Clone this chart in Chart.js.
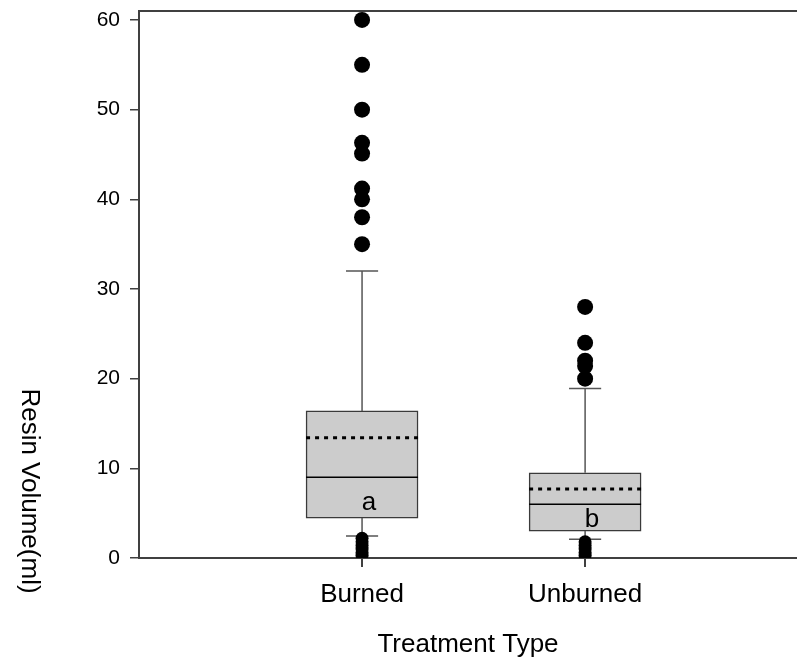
<!DOCTYPE html>
<html>
<head>
<meta charset="utf-8">
<script src="https://cdn.jsdelivr.net/npm/chart.js@4.4.1/dist/chart.umd.min.js"></script>
<style>
  html, body { margin: 0; padding: 0; background: #fff; overflow: hidden; }
  canvas { display: block; }
</style>
</head>
<body>
<canvas id="myChart" width="797" height="665"></canvas>
<script>
// box plot values
let categories = ["Burned", "Unburned"];
let q1 = [4.45, 3.0];
let median = [9.0, 6.0];
let q3 = [16.4, 9.5];
let mean = [13.4, 7.7];
let whiskerLow = [2.45, 2.1];
let whiskerHigh = [32.0, 18.9];
let outliers = [
  [60, 55, 50, 46.3, 45.1, 41.2, 40, 38, 35, 2.2, 1.8, 1.4, 1.0, 0.6, 0.3],
  [28, 24, 22, 21.4, 20, 1.8, 1.4, 1.0, 0.6, 0.3],
];
let groupLetters = ["a", "b"];
let groupLetterY = [5.4, 3.5];
let yTicks = [0, 10, 20, 30, 40, 50, 60];

let font = "'Liberation Sans', Arial, sans-serif";
let axisColor = "#404040";
let boxHalf = 0.251,
  capHalf = 0.072;

function segment(x0, y0, x1, y1, color, width, dash) {
  return {
    type: "line",
    data: [
      { x: x0, y: y0 },
      { x: x1, y: y1 },
    ],
    borderColor: color,
    borderWidth: width,
    borderDash: dash || [],
    pointRadius: 0,
    fill: false,
    order: 1,
  };
}

// fixed axis sizes so the plot area sits where it does in the picture
function fixSize(w, h) {
  return (s) => {
    if (w != null) s.width = w;
    if (h != null) s.height = h;
    s.paddingTop = 0;
    s.paddingBottom = 0;
    s.paddingLeft = 0;
    s.paddingRight = 0;
  };
}

let datasets = [];

// boxes
datasets.push({
  type: "bar",
  data: categories.map((c, i) => ({ x: i + 1, y: [q1[i], q3[i]] })),
  backgroundColor: "#cccccc",
  borderColor: "#3a3a3a",
  borderWidth: 1.5,
  borderSkipped: false,
  barThickness: 112,
  order: 5,
});

categories.forEach((c, i) => {
  let x = i + 1;
  // whiskers + caps
  datasets.push(segment(x, q3[i], x, whiskerHigh[i], "#555", 1.5));
  datasets.push(segment(x, q1[i], x, whiskerLow[i], "#555", 1.5));
  datasets.push(segment(x - capHalf, whiskerHigh[i], x + capHalf, whiskerHigh[i], "#555", 1.5));
  datasets.push(segment(x - capHalf, whiskerLow[i], x + capHalf, whiskerLow[i], "#555", 1.5));
  // median and mean
  datasets.push(segment(x - boxHalf, median[i], x + boxHalf, median[i], "#000", 1.5));
  datasets.push(segment(x - boxHalf, mean[i], x + boxHalf, mean[i], "#000", 3, [4, 5]));
  // outliers
  datasets.push({
    type: "scatter",
    data: outliers[i].filter((v) => v > whiskerHigh[i]).map((v) => ({ x: x, y: v })),
    backgroundColor: "#000",
    borderWidth: 0,
    pointRadius: 8,
    order: 0,
  });
  datasets.push({
    type: "scatter",
    data: outliers[i].filter((v) => v < whiskerLow[i]).map((v) => ({ x: x, y: v })),
    backgroundColor: "#000",
    borderWidth: 0,
    pointRadius: 6.5,
    order: 0,
  });
});

// letters in the boxes and the rotated y title
const extras = {
  id: "extras",
  afterDatasetsDraw(chart) {
    const c = chart.ctx;
    const xs = chart.scales.x,
      ys = chart.scales.y;
    c.save();
    c.fillStyle = "#000";
    c.font = "26px " + font;
    c.textAlign = "center";
    c.textBaseline = "alphabetic";
    groupLetters.forEach((t, i) => {
      c.fillText(t, xs.getPixelForValue(i + 1) + 7, ys.getPixelForValue(groupLetterY[i]));
    });
    c.translate(29, 491);
    c.rotate(Math.PI / 2);
    c.textBaseline = "middle";
    c.fillText("Resin Volume(ml)", 0, 0);
    c.restore();
  },
};

var ctx = document.getElementById("myChart").getContext("2d");
var myChart = new Chart(ctx, {
  type: "bar",
  data: { datasets: datasets },
  plugins: [extras],
  options: {
    responsive: false,
    animation: false,
    layout: { padding: 0, autoPadding: false },
    plugins: {
      legend: { display: false },
      tooltip: { enabled: false },
    },
    scales: {
      x: {
        type: "linear",
        position: "bottom",
        offset: false,
        min: 0,
        max: 2.95,
        afterBuildTicks: (s) => {
          s.ticks = categories.map((c, i) => ({ value: i + 1 }));
        },
        afterFit: fixSize(null, 107),
        ticks: {
          callback: (v) => categories[v - 1],
          font: { size: 26, family: font },
          color: "#000",
          padding: 12,
          maxRotation: 0,
        },
        grid: {
          offset: false,
          drawOnChartArea: false,
          tickLength: 9,
          color: axisColor,
          lineWidth: 2,
        },
        border: { color: axisColor, width: 2 },
        title: {
          display: true,
          text: "Treatment Type",
          font: { size: 26, family: font },
          color: "#000",
          padding: { top: 0, bottom: 5 },
        },
      },
      x2: {
        type: "linear",
        position: "top",
        offset: false,
        min: 0,
        max: 1,
        afterFit: fixSize(null, 11),
        ticks: { display: false },
        grid: { display: true, drawOnChartArea: false, drawTicks: false },
        border: { color: axisColor, width: 2 },
      },
      y: {
        type: "linear",
        min: 0,
        max: 61,
        afterBuildTicks: (s) => {
          s.ticks = yTicks.map((v) => ({ value: v }));
        },
        afterFit: fixSize(139, null),
        ticks: {
          font: { size: 21, family: font },
          color: "#000",
          padding: 10,
        },
        grid: {
          drawOnChartArea: false,
          tickLength: 9,
          color: axisColor,
          lineWidth: 1.5,
        },
        border: { color: axisColor, width: 2 },
      },
    },
  },
});
</script>
</body>
</html>
